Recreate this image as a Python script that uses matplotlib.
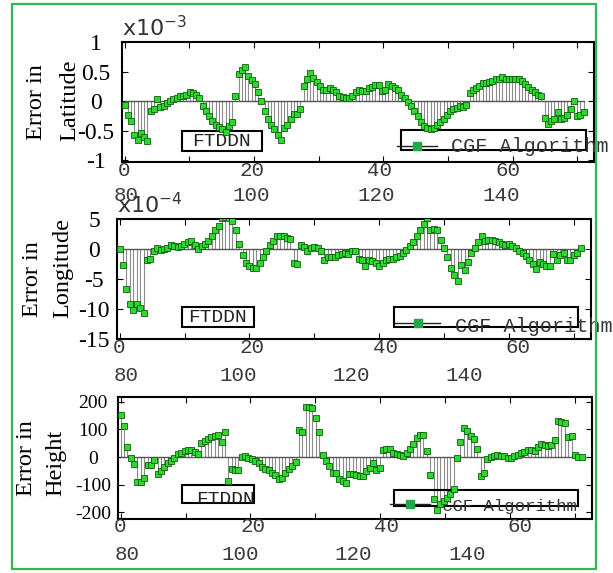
import numpy as np
import matplotlib
matplotlib.use("Agg")
import matplotlib.pyplot as plt
from matplotlib.patches import Rectangle

plt.rcParams["mathtext.fontset"] = "custom"
plt.rcParams["mathtext.rm"] = "Liberation Mono"
plt.rcParams["mathtext.it"] = "Liberation Mono"
plt.rcParams["mathtext.bf"] = "Liberation Mono"

# ---------------- data ----------------
# Error in latitude (x1e-3)
lat_err = [
    -0.06, -0.24, -0.34, -0.58, -0.66, -0.54, -0.60, -0.67, -0.17, -0.13,
    0.03, -0.10, -0.08, -0.04, 0.01, 0.04, 0.06, 0.09, 0.08, 0.11,
    0.15, 0.13, 0.11, 0.05, -0.08, -0.17, -0.26, -0.33, -0.41, -0.44,
    -0.48, -0.52, -0.42, -0.36, 0.09, 0.46, 0.52, 0.58, 0.43, 0.36,
    0.29, 0.15, 0.01, -0.16, -0.31, -0.41, -0.48, -0.57, -0.66, -0.46,
    -0.41, -0.31, -0.21, -0.21, -0.13, 0.26, 0.37, 0.47, 0.39, 0.32,
    0.26, 0.18, 0.19, 0.23, 0.19, 0.16, 0.09, 0.07, 0.06, 0.06,
    0.08, 0.16, 0.18, 0.17, 0.17, 0.22, 0.24, 0.27, 0.28, 0.17,
    0.19, 0.29, 0.26, 0.23, 0.18, 0.11, 0.06, -0.01, -0.08, -0.17,
    -0.26, -0.35, -0.42, -0.46, -0.48, -0.45, -0.41, -0.36, -0.30, -0.24,
    -0.17, -0.13, -0.11, -0.09, -0.10, -0.06, 0.13, 0.18, 0.22, 0.26,
    0.31, 0.30, 0.33, 0.34, 0.37, 0.38, 0.40, 0.38, 0.37, 0.37,
    0.37, 0.38, 0.34, 0.29, 0.24, 0.19, 0.15, 0.10, 0.08, -0.28,
    -0.38, -0.34, -0.30, -0.19, -0.31, -0.29, -0.23, -0.13, 0.01, -0.26,
    -0.24, -0.19,
]
# Error in longitude (x1e-4)
lon_err = [
    0.0, -2.7, -6.7, -9.2, -10.2, -9.2, -9.8, -10.6, -1.8, -1.6,
    -0.3, 0.1, -0.1, 0.0, 0.2, 0.7, 0.5, 0.3, 0.5, 0.8,
    1.1, 1.4, 0.6, 0.0, 0.5, 0.9, 1.4, 2.2, 3.1, 3.8,
    5.1, 5.3, 5.1, 4.7, 3.1, 0.8, -1.0, -2.4, -2.9, -3.2,
    -3.1, -2.4, -1.3, -0.3, 0.6, 1.4, 2.1, 2.1, 2.1, 1.9,
    1.6, -2.3, -2.5, 0.7, 0.3, -0.4, 0.1, 0.4, 0.1, -0.3,
    -1.9, -1.3, -1.4, -1.3, -1.0, -0.8, -0.6, -0.8, -0.4, -0.4,
    -1.7, -1.9, -2.8, -1.8, -2.0, -2.3, -2.9, -2.4, -1.8, -1.7,
    -1.6, -1.3, -1.1, -0.6, -0.2, 0.5, 1.2, 2.1, 3.1, 4.2,
    5.1, 3.2, 3.3, 3.1, 1.5, 0.1, -1.4, -3.1, -4.3, -5.3,
    -2.7, -3.5, -2.1, -0.7, 0.1, 1.1, 2.2, 1.4, 1.5, 1.5,
    1.4, 1.2, 0.9, 0.7, 0.8, 0.5, 0.1, -0.3, -0.7, -1.2,
    -1.8, -2.5, -3.4, -2.2, -2.5, -2.8, -2.8, -0.9, -1.9, -1.0,
    -0.6, -1.8, -1.8, -1.0, -0.6, 0.1,
]
# Error in height
hgt_err = [
    151, 113, 38, -2, -27, -91, -89, -75, -30, -30,
    -11, -63, -51, -35, -21, -15, -2, 10, 16, 22,
    25, 24, 19, 10, 50, 58, 67, 73, 76, 79,
    54, 91, -87, -45, -47, -48, 0, 4, -2, -8,
    -15, -23, -35, -42, -48, -57, -67, -79, -75, -57,
    -42, -33, -17, 98, 91, 183, 183, 179, 143, 91,
    6, -15, -33, -57, -57, -79, -87, -96, -63,
    -63, -65, -69, -69, -51, -39, -23, -47, -39, 25,
    28, 30, 16, 10, 6, 4, 13, 30, 48, 70,
    79, 79, 22, -67, -151, -194, -172, -160, -148, -135, -117,
    -5, 54, 106, 94, 76, 67, 28, -69, -59, -8,
    0, 4, 6, 5, 4, -2, -2, 2, 6, 13, 18, 25,
    25, 22, 35, 46, 42, 40, 42, 62, 131, 127, 122,
    73, 76, 6, 1, 1,
]

lat_yticks = [-1, -0.5, 0, 0.5, 1]
lat_yticklabels = ["-1", "-0.5", "0", "0.5", "1"]
lon_yticks = [-15, -10, -5, 0, 5]
lon_yticklabels = ["-15", "-10", "-5", "0", "5"]
hgt_yticks = [-200, -100, 0, 100, 200]
hgt_yticklabels = ["-200", "-100", "0", "100", "200"]
row1_labels = [0, 20, 40, 60]
row2_labels = [80, 100, 120, 140]
ylabels = [("Error in", "Latitude"), ("Error in", "Longitude"), ("Error in", "Height")]
exponents = [r"$\mathregular{x10^{-3}}$", r"$\mathregular{x10^{-4}}$", None]
legend_names = ("FTDDN", "CGF Algorithm")

# ---------------- layout ----------------
W, H = 613, 573
fig = plt.figure(figsize=(W / 100, H / 100), dpi=100)
fig.patch.set_facecolor("white")

MONO = "Liberation Mono"
SERIF = "Liberation Serif"
GREEN = "#2fd82f"
EDGE = "#0e5e0e"
LEG_GREEN = "#22a846"
LABC = "#3a3a3a"


def frect(l, t, r, b):
    return [l / W, 1 - b / H, (r - l) / W, (b - t) / H]


panels = [
    dict(vals=lat_err, box=(122, 42, 594, 162), ylim=(-1.03, 1.0),
         yt=lat_yticks, ytl=lat_yticklabels, ytsize=17, ypad=26,
         ylx=(37, 70), yly=(102, 100), exp_xy=(122, 28),
         row1=(170, 124, 508), row2=(195, 126, 501),
         ft_box=(182, 131, 262, 151), ft_txt=(222, 142, 14), ft_clip=False,
         cg_box=(401, 130, 586, 150), cg_line=(397, 437, 146), cg_mark=417,
         cg_txt=(451, 146, 14.5)),
    dict(vals=lon_err, box=(117, 219, 591, 339), ylim=(-15, 5),
         yt=lon_yticks, ytl=lon_yticklabels, ytsize=17, ypad=23,
         ylx=(32, 63), yly=(279, 268), exp_xy=(117, 205),
         row1=(347, 119, 518), row2=(375, 126, 464),
         ft_box=(182, 307, 254, 327), ft_txt=(217, 318, 14), ft_clip=False,
         cg_box=(394, 307, 578, 327), cg_line=(395, 440, 323), cg_mark=418,
         cg_txt=(455, 327, 14.5)),
    dict(vals=hgt_err, box=(118, 397, 592, 519), ylim=(-225, 218),
         yt=hgt_yticks, ytl=hgt_yticklabels, ytsize=14, ypad=25,
         ylx=(26, 56), yly=(458, 463), exp_xy=None,
         row1=(526, 120, 520), row2=(554, 127, 467),
         ft_box=(182, 485, 254, 503), ft_txt=(226, 500, 14), ft_clip=True,
         cg_box=(394, 490, 578, 506), cg_line=(390, 430, 504), cg_mark=410,
         cg_txt=(442, 507, 12.5)),
]


def label_row(y_px, labels, p_first, p_last, size=15, x0=90, x1=606):
    lax = fig.add_axes(frect(x0, y_px - 0.5, x1, y_px + 0.5))
    scale = (p_last - p_first) / (labels[-1] - labels[0])
    lax.set_xlim(labels[0] - (p_first - x0) / scale, labels[0] + (x1 - p_first) / scale)
    lax.set_xticks(labels, [str(v) for v in labels])
    lax.tick_params(axis="x", length=0, pad=0, labelsize=size, labelcolor=LABC)
    for t in lax.get_xticklabels():
        t.set_fontfamily(MONO)
        t.set_va("center")
    lax.set_yticks([])
    for s in lax.spines.values():
        s.set_visible(False)
    lax.patch.set_visible(False)
    return lax


for i, p in enumerate(panels):
    l, t, r, b = p["box"]
    ax = fig.add_axes(frect(l, t, r, b))

    def ax_xy(px, py):
        return ((px - l) / (r - l), (b - py) / (b - t))

    vals = np.asarray(p["vals"], dtype=float)
    x = np.linspace(0, 71, len(vals))
    ml, sl, bl = ax.stem(x, vals, linefmt="-", markerfmt="s", basefmt="-")
    plt.setp(sl, color="#8c8c8c", linewidth=0.8)
    plt.setp(bl, color="#555555", linewidth=1.0)
    plt.setp(ml, markerfacecolor=GREEN, markeredgecolor=EDGE, markersize=5,
             markeredgewidth=0.6, zorder=4)

    ax.set_xlim(-0.4, 72.6)
    ax.set_ylim(*p["ylim"])
    ax.set_xticks(np.arange(0, 80, 10))
    ax.tick_params(axis="x", direction="in", top=True, bottom=True,
                   labelbottom=False, length=4, width=0.8)
    ax.set_yticks(p["yt"], p["ytl"])
    ax.tick_params(axis="y", direction="in", left=True, right=True, length=4,
                   width=0.8, pad=p["ypad"] * 0.72, labelsize=p["ytsize"])
    for tl in ax.get_yticklabels():
        tl.set_fontfamily(SERIF)
        tl.set_ha("center")
    for s in ax.spines.values():
        s.set_linewidth(1.5)

    # legend-like boxes
    bx0, by0 = ax_xy(p["ft_box"][0], p["ft_box"][3])
    bx1, by1 = ax_xy(p["ft_box"][2], p["ft_box"][1])
    ftrect = Rectangle((bx0, by0), bx1 - bx0, by1 - by0, transform=ax.transAxes,
                       fill=False, ec="black", lw=1.5, zorder=3, clip_on=False)
    ax.add_patch(ftrect)
    tx, ty = ax_xy(p["ft_txt"][0], p["ft_txt"][1])
    ft = ax.text(tx, ty, legend_names[0], transform=ax.transAxes, ha="center",
                 va="center", family=MONO, fontsize=p["ft_txt"][2], color="#222222")
    if p["ft_clip"]:
        ft.set_clip_on(True)
        ft.set_clip_path(ftrect)

    cx0, cy0 = ax_xy(p["cg_box"][0], p["cg_box"][3])
    cx1, cy1 = ax_xy(p["cg_box"][2], p["cg_box"][1])
    ax.add_patch(Rectangle((cx0, cy0), cx1 - cx0, cy1 - cy0, transform=ax.transAxes,
                           fill=False, ec="black", lw=1.5, zorder=3, clip_on=False))
    lx0, ly = ax_xy(p["cg_line"][0], p["cg_line"][2])
    lx1, _ = ax_xy(p["cg_line"][1], p["cg_line"][2])
    mx, _ = ax_xy(p["cg_mark"], p["cg_line"][2])
    ax.plot([lx0, lx1], [ly, ly], color="#222222", lw=1.0, transform=ax.transAxes,
            clip_on=False, zorder=3)
    ax.plot([mx], [ly], marker="s", ms=6, color=LEG_GREEN, mec=LEG_GREEN,
            transform=ax.transAxes, clip_on=False, zorder=3)
    gx, gy = ax_xy(p["cg_txt"][0], p["cg_txt"][1])
    ax.text(gx, gy, legend_names[1], transform=ax.transAxes, ha="left", va="center",
            family=MONO, fontsize=p["cg_txt"][2], color="#333333")

    # y labels (two lines)
    for s_txt, xx, yy in zip(ylabels[i], p["ylx"], p["yly"]):
        fig.text(xx / W, 1 - yy / H, s_txt, rotation=90, ha="center", va="center",
                 family=SERIF, fontsize=17.5, color="black")

    # exponent
    if exponents[i] is not None:
        ex, ey = p["exp_xy"]
        fig.text(ex / W, 1 - ey / H, exponents[i], ha="left", va="center",
                 fontsize=16, color="#333333")

    # tick label rows
    label_row(p["row1"][0], row1_labels, p["row1"][1], p["row1"][2])
    label_row(p["row2"][0], row2_labels, p["row2"][1], p["row2"][2])

# cut-off of the last row of labels
fig.add_artist(Rectangle((100 / W, 1 - 567 / H), 495 / W, 7 / H, transform=fig.transFigure,
                         fc="white", ec="none", zorder=5))

# green frame
fig.add_artist(Rectangle((12 / W, 1 - 569 / H), (596 - 12) / W, (569 - 4) / H,
                         transform=fig.transFigure, fill=False, ec="#34b553", lw=1.6,
                         zorder=6))

fig.savefig("out.png", dpi=100, facecolor="white")
